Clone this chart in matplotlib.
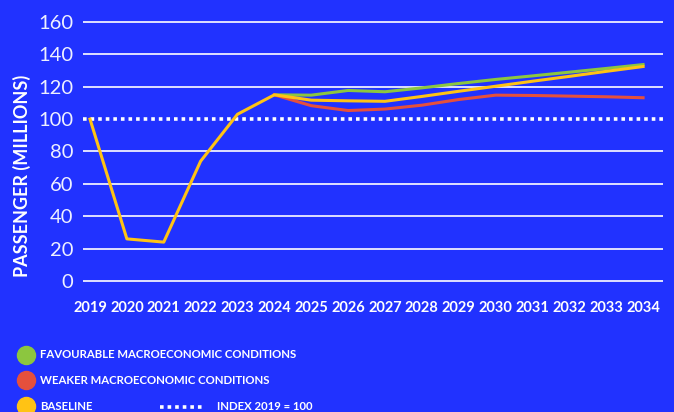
import numpy as np
import matplotlib
matplotlib.use("Agg")
import matplotlib.pyplot as plt
from matplotlib.lines import Line2D

# data
years = list(range(2019, 2035))
baseline = [100, 26, 24, 74, 103, 115, 111.7, 111.3, 111.0, 114.0, 117.2,
            120.3, 123.4, 126.4, 129.5, 132.5]
fav_years = list(range(2024, 2035))
favourable = [115, 114.8, 117.7, 116.9, 119.3, 122.0, 124.5, 126.7, 129.0,
              131.3, 133.7]
weaker = [115, 108.3, 105.3, 106.2, 108.6, 112.1, 114.8, 114.6, 114.2,
          113.8, 113.2]
index_level = 100
yticks = [0, 20, 40, 60, 80, 100, 120, 140, 160]

bg = '#2132FF'
c_fav = '#8CC63F'
c_weak = '#E5503C'
c_base = '#FFC314'

plt.rcParams['font.family'] = ['Lato', 'DejaVu Sans']

fig = plt.figure(figsize=(6.74, 4.12), dpi=100, facecolor=bg)
ax = fig.add_axes([83/674, (412-284.2)/412, 580/674, (284.2-18.76)/412])
ax.set_facecolor(bg)

for y in yticks:
    if y == index_level:
        continue
    ax.axhline(y, color='white', lw=1.2, zorder=1)
ax.axhline(index_level, color='white', lw=2.6, ls=(0, (1, 1.1)), zorder=2)

ax.plot(fav_years, favourable, color=c_fav, lw=2.2, zorder=3,
        solid_joinstyle='round')
ax.plot(fav_years, weaker, color=c_weak, lw=2.2, zorder=3,
        solid_joinstyle='round')
ax.plot(years, baseline, color=c_base, lw=2.2, zorder=4,
        solid_joinstyle='round')

ax.set_xlim(2018.81, 2034.54)
ax.set_ylim(-2, 162)
ax.set_xticks(years)
ax.set_xticklabels([str(y) for y in years], fontsize=10.5, fontweight='bold',
                   color='white')
ax.set_yticks(yticks)
ax.set_yticklabels([str(y) for y in yticks], fontsize=14.5,
                   fontweight='normal', color='#EEF0FF')
ax.tick_params(axis='x', length=0, pad=12)
ax.tick_params(axis='y', length=0, pad=7)
for s in ax.spines.values():
    s.set_visible(False)

fig.text(22/674, 1-176/412, 'PASSENGER (MILLIONS)', rotation=90,
         ha='center', va='center', fontsize=13, fontweight='bold',
         color='white')

# legend drawn by hand
legend = [('FAVOURABLE MACROECONOMIC CONDITIONS', c_fav, 355),
          ('WEAKER MACROECONOMIC CONDITIONS', c_weak, 380),
          ('BASELINE', c_base, 406)]
for label, c, ypx in legend:
    fy = 1 - ypx/412
    fig.add_artist(Line2D([26/674], [fy], marker='o', markersize=13,
                          color=c, transform=fig.transFigure, lw=0))
    fig.text(40/674, fy, label, fontsize=8.2, fontweight='bold',
             color='white', va='center', ha='left')
fy = 1 - 407/412
fig.add_artist(Line2D([160/674, 203/674], [fy, fy], color='white', lw=2.6,
                      ls=(0, (1, 1.1)), transform=fig.transFigure))
fig.text(217/674, 1 - 406/412, 'INDEX 2019 = 100', fontsize=8.2,
         fontweight='bold', color='white', va='center', ha='left')

fig.savefig('out.png', dpi=100, facecolor=bg)
